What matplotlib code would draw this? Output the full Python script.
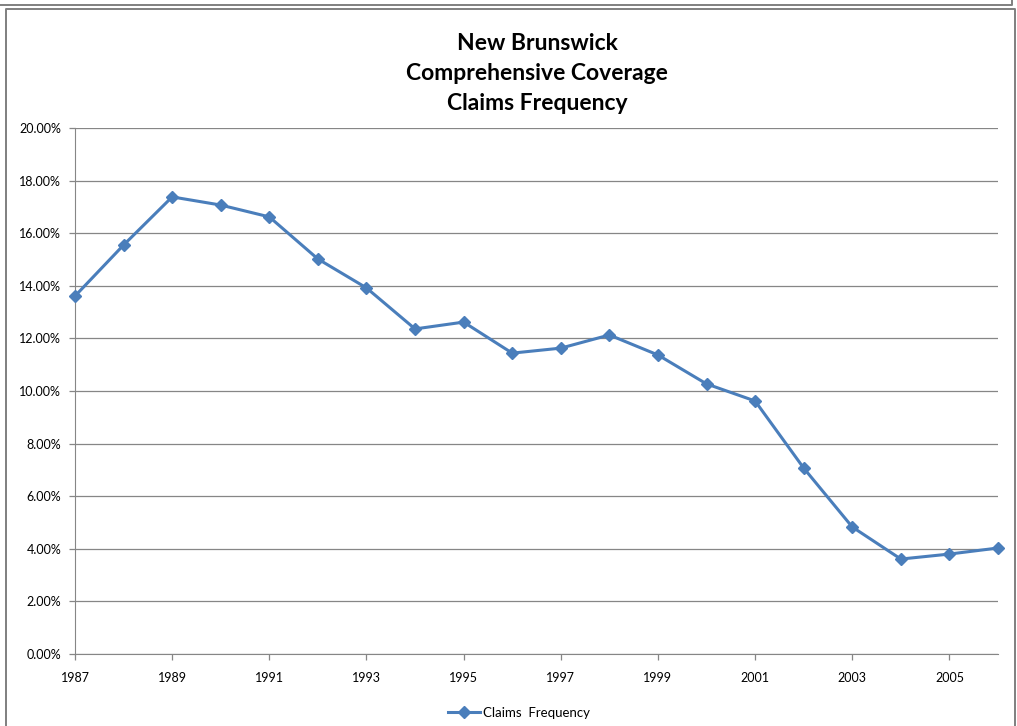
import matplotlib
matplotlib.use("Agg")
import matplotlib.pyplot as plt
from matplotlib.lines import Line2D
from matplotlib.ticker import FuncFormatter, MultipleLocator

years = [1987, 1988, 1989, 1990, 1991, 1992, 1993, 1994, 1995, 1996,
         1997, 1998, 1999, 2000, 2001, 2002, 2003, 2004, 2005, 2006]
claims_frequency = [13.61, 15.55, 17.38, 17.07, 16.62, 15.02, 13.92, 12.36, 12.62, 11.44,
                    11.63, 12.13, 11.37, 10.27, 9.62, 7.07, 4.83, 3.61, 3.80, 4.03]
x_ticks = [1987, 1989, 1991, 1993, 1995, 1997, 1999, 2001, 2003, 2005]
title_lines = ["New Brunswick", "Comprehensive Coverage", "Claims Frequency"]
series_name = "Claims  Frequency"

W, H = 1017, 726
fig = plt.figure(figsize=(W / 100, H / 100), dpi=100)
fig.patch.set_facecolor("white")

# outer frames
frame_col = "#7f7f7f"
lw_f = 1.4
fig.add_artist(Line2D([0, 1012 / W, 1012 / W], [1 - 5 / H, 1 - 5 / H, 1], color=frame_col, lw=lw_f,
                      transform=fig.transFigure))
fig.add_artist(Line2D([6 / W, 6 / W, 1015 / W, 1015 / W], [0, 1 - 9 / H, 1 - 9 / H, 0],
                      color=frame_col, lw=lw_f, transform=fig.transFigure))

ax = fig.add_axes([75 / W, (H - 654) / H, (998 - 75) / W, (654 - 128) / H])
ax.plot(years, claims_frequency, color="#4a7ebb", lw=2.2, marker="D", ms=6,
        markerfacecolor="#4a7ebb", markeredgecolor="#4a7ebb", label=series_name, zorder=3,
        clip_on=False)

ax.set_xlim(1987, 2006)
ax.set_ylim(0, 20)
ax.set_xticks(x_ticks)
ax.yaxis.set_major_locator(MultipleLocator(2))
ax.yaxis.set_major_formatter(FuncFormatter(lambda v, p: f"{v:.2f}%"))
ax.grid(axis="y", color="#868686", lw=0.9)
ax.set_axisbelow(True)
for s in ["top", "right"]:
    ax.spines[s].set_visible(False)
for s in ["left", "bottom"]:
    ax.spines[s].set_color("#868686")
ax.tick_params(axis="both", colors="#868686", labelcolor="black", labelsize=9, length=4, width=0.9)
ax.tick_params(axis="x", pad=9)
ax.tick_params(axis="y", pad=6)
for lab in ax.get_xticklabels() + ax.get_yticklabels():
    lab.set_fontfamily(["Lato", "DejaVu Sans"])

for i, t in enumerate(title_lines):
    fig.text(537 / W, 1 - (43 + 30 * i) / H, t, ha="center", va="center",
             fontsize=16.5, fontweight="bold", family=["Lato", "DejaVu Sans"])

leg = fig.legend(handles=ax.get_lines(), loc="center", bbox_to_anchor=(519 / W, 1 - 713 / H),
                 frameon=False, prop={"family": ["Lato", "DejaVu Sans"], "size": 9.5},
                 handlelength=2.4, handletextpad=0.2)

fig.savefig("out.png", dpi=100)
